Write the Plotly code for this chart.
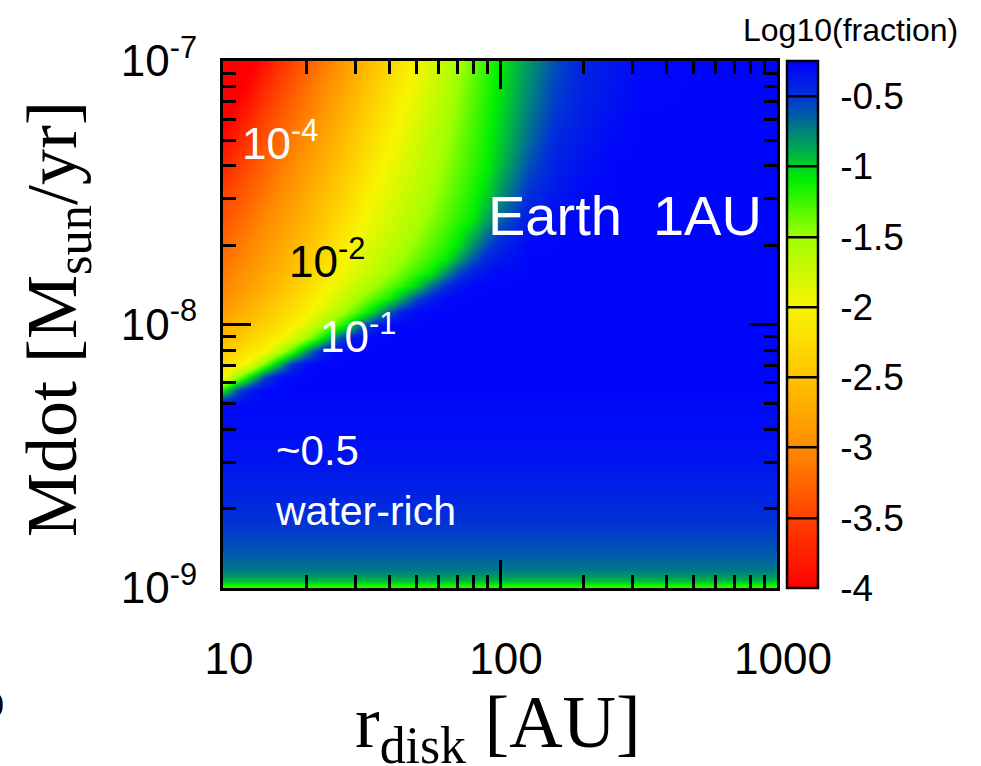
import math
import plotly.graph_objects as go

# Disc radius [AU] (heatmap columns)
r_disk = [10, 11.2, 12.6, 14.1, 15.8, 17.8, 20.0, 22.4, 25.1, 28.2, 31.6, 35.5, 39.8, 44.7,
          50.1, 56.2, 63.1, 70.8, 79.4, 89.1, 100, 126, 158, 200, 251, 316, 501, 1000]
# Accretion rate [Msun/yr] (heatmap rows)
mdot = [1.0e-9, 1.07e-9, 1.17e-9, 1.32e-9, 1.58e-9, 2.14e-9, 3.16e-9, 4.47e-9, 5.01e-9,
        5.62e-9, 6.31e-9, 7.08e-9, 7.94e-9, 8.91e-9, 1.0e-8, 1.12e-8, 1.26e-8, 1.41e-8,
        1.58e-8, 1.78e-8, 2.0e-8, 2.51e-8, 3.16e-8, 3.98e-8, 5.01e-8, 6.31e-8, 7.94e-8, 1.0e-7]

# water-rich plateau value of log10(fraction)
PLATEAU = -0.28

# log10(water fraction); each row lists values from r = 10 AU outward,
# the remaining outer columns sit on the plateau
rows = [
    [-1.30] * 28,
    [-0.90] * 28,
    [-0.72] * 28,
    [-0.63] * 28,
    [-0.55] * 28,
    [-0.44] * 28,
    [-0.34] * 28,
    [-0.30] * 28,
    [-0.30] * 28,
    [-1.10, -0.62, -0.37, -0.29],
    [-2.00, -1.51, -1.02, -0.58, -0.34],
    [-2.21, -2.09, -1.88, -1.41, -0.93, -0.51, -0.32],
    [-2.42, -2.29, -2.15, -2.02, -1.67, -1.27, -0.83, -0.45, -0.29],
    [-2.58, -2.47, -2.33, -2.20, -2.06, -1.82, -1.50, -1.17, -0.75, -0.42, -0.29],
    [-2.71, -2.60, -2.49, -2.35, -2.21, -2.06, -1.85, -1.59, -1.34, -1.07, -0.68, -0.41],
    [-2.84, -2.72, -2.61, -2.49, -2.34, -2.20, -2.05, -1.86, -1.65, -1.44, -1.23, -0.96,
     -0.63, -0.40, -0.29],
    [-2.98, -2.85, -2.72, -2.59, -2.46, -2.31, -2.16, -2.01, -1.83, -1.66, -1.48, -1.31,
     -1.13, -0.85, -0.58, -0.40, -0.29],
    [-3.05, -2.94, -2.82, -2.69, -2.57, -2.43, -2.27, -2.11, -1.96, -1.81, -1.66, -1.51,
     -1.36, -1.21, -1.01, -0.72, -0.50, -0.37, -0.29],
    [-3.12, -3.01, -2.89, -2.77, -2.64, -2.52, -2.37, -2.21, -2.06, -1.92, -1.78, -1.65,
     -1.51, -1.37, -1.23, -1.10, -0.82, -0.58, -0.42, -0.34, -0.29],
    [-3.18, -3.08, -2.97, -2.84, -2.71, -2.58, -2.44, -2.29, -2.13, -1.98, -1.86, -1.73,
     -1.61, -1.48, -1.36, -1.24, -1.11, -0.86, -0.61, -0.44, -0.36],
    [-3.25, -3.14, -3.03, -2.91, -2.78, -2.64, -2.51, -2.36, -2.20, -2.04, -1.91, -1.79,
     -1.68, -1.56, -1.44, -1.32, -1.20, -1.06, -0.81, -0.59, -0.43, -0.29],
    [-3.38, -3.26, -3.15, -3.03, -2.90, -2.77, -2.63, -2.50, -2.34, -2.18, -2.02, -1.90,
     -1.79, -1.67, -1.56, -1.44, -1.33, -1.21, -1.10, -0.87, -0.65, -0.40, -0.29],
    [-3.49, -3.39, -3.27, -3.15, -3.02, -2.88, -2.74, -2.60, -2.46, -2.29, -2.13, -1.98,
     -1.87, -1.75, -1.64, -1.52, -1.40, -1.29, -1.17, -1.02, -0.82, -0.49, -0.37, -0.29],
    [-3.72, -3.54, -3.40, -3.27, -3.13, -3.00, -2.86, -2.71, -2.56, -2.41, -2.25, -2.09,
     -1.94, -1.83, -1.71, -1.59, -1.47, -1.35, -1.23, -1.11, -0.93, -0.60, -0.41, -0.33],
    [-3.92, -3.73, -3.55, -3.40, -3.26, -3.12, -2.98, -2.82, -2.66, -2.51, -2.35, -2.19,
     -2.03, -1.90, -1.77, -1.64, -1.52, -1.39, -1.27, -1.14, -0.99, -0.68, -0.45, -0.37,
     -0.29],
    [-4.10, -3.91, -3.72, -3.52, -3.37, -3.23, -3.09, -2.94, -2.77, -2.61, -2.45, -2.29,
     -2.13, -1.97, -1.84, -1.71, -1.57, -1.44, -1.30, -1.17, -1.03, -0.74, -0.51, -0.40,
     -0.33],
    [-4.25, -4.08, -3.89, -3.69, -3.50, -3.35, -3.20, -3.05, -2.89, -2.72, -2.56, -2.39,
     -2.22, -2.06, -1.91, -1.77, -1.63, -1.48, -1.34, -1.20, -1.06, -0.78, -0.55, -0.42,
     -0.35, -0.29],
    [-4.40, -4.23, -4.06, -3.87, -3.67, -3.48, -3.32, -3.17, -3.01, -2.84, -2.67, -2.50,
     -2.32, -2.15, -1.98, -1.83, -1.68, -1.53, -1.38, -1.23, -1.08, -0.82, -0.59, -0.43,
     -0.37, -0.30],
]
log_fraction = [row + [PLATEAU] * (len(r_disk) - len(row)) for row in rows]

z_min, z_max = -4.0, -0.25
cbar_ticks = [-4, -3.5, -3, -2.5, -2, -1.5, -1, -0.5]
cbar_text = ["-4", "-3.5", "-3", "-2.5", "-2", "-1.5", "-1", "-0.5"]

x_ticks = [10, 100, 1000]
x_text = ["10", "100", "1000"]
x_minor = [20, 30, 40, 50, 60, 70, 80, 90, 200, 300, 400, 500, 600, 700, 800, 900]
y_ticks = [1e-9, 1e-8, 1e-7]
y_text = ["10<sup>-9</sup>", "10<sup>-8</sup>", "10<sup>-7</sup>"]
y_minor = [2e-9, 3e-9, 4e-9, 5e-9, 6e-9, 7e-9, 8e-9, 9e-9,
           2e-8, 3e-8, 4e-8, 5e-8, 6e-8, 7e-8, 8e-8, 9e-8]

# rainbow map: red (dry) -> yellow -> green -> blue (water-rich)
stops = [(-4.0, "rgb(255,0,0)"), (-3.5, "rgb(255,65,0)"), (-3.0, "rgb(255,140,0)"),
         (-2.5, "rgb(255,195,0)"), (-2.0, "rgb(248,245,0)"), (-1.5, "rgb(160,255,0)"),
         (-1.1, "rgb(0,240,0)"), (-0.75, "rgb(0,130,125)"), (-0.5, "rgb(0,50,215)"),
         (-0.25, "rgb(0,0,255)")]
colorscale = [[(v - z_min) / (z_max - z_min), c] for v, c in stops]

SANS = "Liberation Sans, Arial, Helvetica, sans-serif"
SERIF = "Liberation Serif, Times New Roman, serif"

fig = go.Figure()

fig.add_trace(go.Heatmap(
    x=r_disk, y=mdot, z=log_fraction,
    zmin=z_min, zmax=z_max, colorscale=colorscale,
    zsmooth="best", showscale=False, hoverinfo="skip",
))

# contour copy of the field supplies the banded colour bar (gradient + level lines)
fig.add_trace(go.Contour(
    x=r_disk, y=mdot, z=log_fraction,
    zmin=z_min, zmax=z_max, colorscale=colorscale,
    contours=dict(start=-3.5, end=-0.5, size=0.5, coloring="heatmap", showlines=True),
    line=dict(color="black", width=2.5),
    opacity=0, hoverinfo="skip",
    colorbar=dict(
        x=1.018, xanchor="left", y=0.5, yanchor="middle",
        len=1.0, lenmode="fraction", thickness=31, xpad=0, ypad=0,
        outlinewidth=2.5, outlinecolor="black",
        tickmode="array", tickvals=cbar_ticks, ticktext=cbar_text,
        ticks="outside", ticklen=14, tickcolor="rgba(0,0,0,0)",
        tickfont=dict(family=SANS, size=37, color="black"),
    ),
))

axis_common = dict(
    type="log", showline=True, linecolor="black", linewidth=3, mirror="ticks",
    ticks="inside", ticklen=28, tickwidth=3, tickcolor="black",
    showgrid=False, zeroline=False,
    tickfont=dict(family=SANS, size=44, color="black"),
)

fig.update_xaxes(
    range=[1, 3], tickmode="array", tickvals=x_ticks, ticktext=x_text,
    ticklabelstandoff=30, ticklabelshift=6,
    minor=dict(tickmode="array", tickvals=x_minor, ticks="inside", ticklen=13,
               tickwidth=3, tickcolor="black", showgrid=False),
    **axis_common,
)
fig.update_yaxes(
    range=[-9, -7], tickmode="array", tickvals=y_ticks, ticktext=y_text,
    ticklabelstandoff=14,
    minor=dict(tickmode="array", tickvals=y_minor, ticks="inside", ticklen=13,
               tickwidth=3, tickcolor="black", showgrid=False),
    **axis_common,
)


def label(text, r, m, color="white", size=44):
    return dict(x=math.log10(r), y=math.log10(m), xref="x", yref="y", text=text,
                showarrow=False, xanchor="center", yanchor="middle",
                font=dict(family=SANS, size=size, color=color))


annotations = [
    label("10<sup>-4</sup>", 16.1, 5.0e-8),
    label("10<sup>-2</sup>", 23.7, 1.78e-8, color="black"),
    label("10<sup>-1</sup>", 30.7, 9.25e-9),
    label("Earth\u00a0\u00a01AU", 282, 2.59e-8, size=56),
    label("~0.5", 21.9, 3.32e-9, size=42),
    label("water-rich", 32.8, 1.96e-9, size=41),
    dict(x=1.132, y=1.059, xref="paper", yref="paper", text="Log10(fraction)",
         showarrow=False, xanchor="center", yanchor="middle",
         font=dict(family=SANS, size=32, color="black")),
    dict(x=-0.30, y=0.51, xref="paper", yref="paper", text="Mdot [M<sub>sun</sub>/yr]",
         showarrow=False, textangle=-90, xanchor="center", yanchor="middle",
         font=dict(family=SERIF, size=72, color="black")),
    dict(x=0.497, y=-0.265, xref="paper", yref="paper", text="r<sub>disk</sub> [AU]",
         showarrow=False, xanchor="center", yanchor="middle",
         font=dict(family=SERIF, size=74, color="black")),
    dict(x=-0.392, y=-0.216, xref="paper", yref="paper", text=")",
         showarrow=False, xanchor="right", yanchor="middle",
         font=dict(family=SERIF, size=30, color="black")),
]

fig.update_layout(
    width=981, height=766,
    margin=dict(l=223, r=204, t=61, b=178),
    paper_bgcolor="white", plot_bgcolor="white",
    showlegend=False, annotations=annotations,
)

fig.write_html("out.html")
